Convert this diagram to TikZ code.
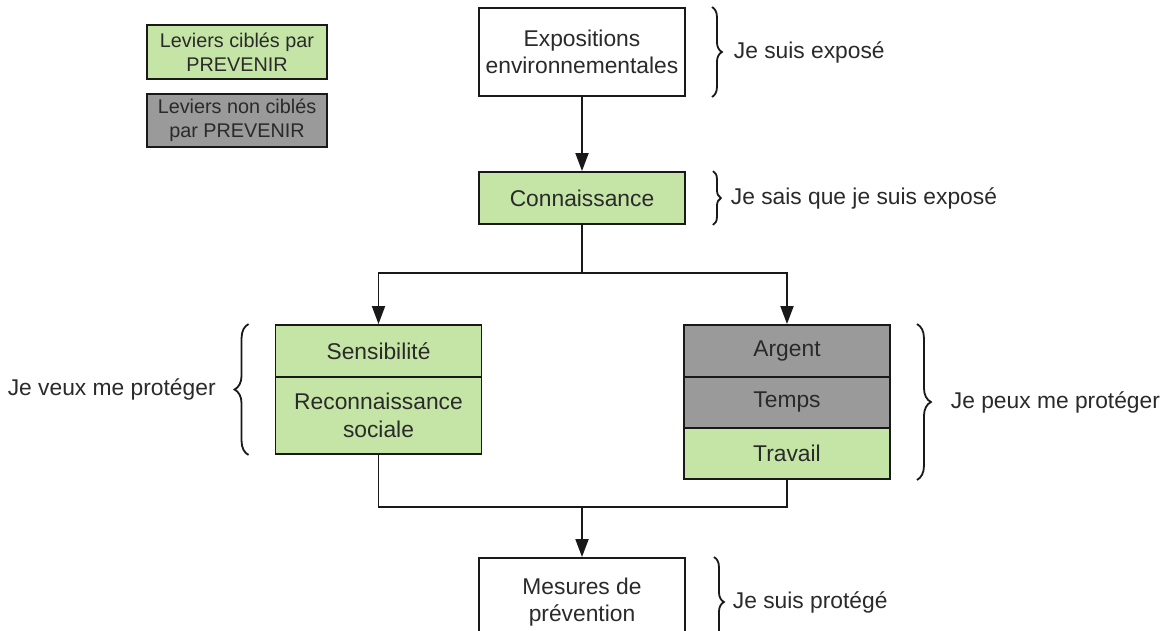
\documentclass[tikz,border=0pt]{standalone}
\usepackage{fontspec}
\setmainfont{Liberation Sans}
\usetikzlibrary{arrows.meta,decorations.pathreplacing}
\definecolor{levier}{HTML}{C5E5A6}
\definecolor{nonlevier}{HTML}{9A9A9A}
\definecolor{texte}{HTML}{2A2A2A}

\begin{document}
\begin{tikzpicture}[
        x=1pt, y=-1pt,
        every node/.style={text=texte, font=\fontsize{22.8}{27.5}\selectfont},
        bloc/.style={
            draw=black!90,
            line width=1.9pt,
            align=center,
            minimum width=206pt,
            inner sep=0pt
        },
        cible/.style={bloc, fill=levier},
        noncible/.style={bloc, fill=nonlevier},
        lien/.style={line width=1.9pt, draw=black!90},
        fleche/.style={lien, -{Triangle[length=18pt,width=13pt]}},
        accolade/.style={decorate, decoration={brace, amplitude=#1}, line width=1.8pt, draw=black!90},
        accolade/.default=10pt,
        annot/.style={inner sep=0pt}
    ]
    \clip (0,0) rectangle (1169,630);
    \fill[white] (0,0) rectangle (1169,630);

    % legende
    \node[cible, minimum width=180pt, minimum height=54pt, font=\fontsize{19.8}{24.5}\selectfont] (legcible) at (237,52) {Leviers ciblés par\\PREVENIR};
    \node[noncible, minimum width=180pt, minimum height=53pt, font=\fontsize{19.8}{24.5}\selectfont] (legnon) at (237,120.5) {Leviers non ciblés\\par PREVENIR};

    % chaine principale
    \node[bloc, minimum height=88pt] (expo) at (582,52) {Expositions\\environnementales};
    \node[cible, minimum height=52pt] (conn) at (582,198) {Connaissance};

    \node[cible, minimum height=52pt] (sens) at (378.5,351) {Sensibilité};
    \node[cible, minimum height=77pt] (reco) at (378.5,415.5) {Reconnaissance\\sociale};

    \node[noncible, minimum height=52pt] (argent) at (787,351) {Argent};
    \node[noncible, minimum height=51pt] (temps) at (787,402.5) {Temps};
    \node[cible, minimum height=51pt] (trav) at (787,453.5) {Travail};

    \node[bloc, minimum height=88pt] (mes) at (582,602) {Mesures de\\prévention};

    \coordinate (split) at (582,273);
    \coordinate (merge) at (582,507);

    \draw[fleche] (expo) -- (conn);
    \draw[lien] (conn) -- (split);
    \draw[fleche] (split) -| (sens);
    \draw[fleche] (split) -| (argent);
    \draw[lien] (reco) |- (merge) -| (trav);
    \draw[fleche] (merge) -- (mes);

    % accolades
    \draw[accolade] ([xshift=26pt]expo.north east) -- ([xshift=26pt]expo.south east)
        node[annot, midway, right=21pt] (lexpo) {Je suis exposé};
    \draw[accolade=8pt] ([xshift=27pt]conn.north east) -- ([xshift=27pt]conn.south east)
        node[annot, midway, right=17pt] (lconn) {Je sais que je suis exposé};
    \draw[accolade=14pt] ([xshift=-26pt]reco.south west) -- ([xshift=-26pt]sens.north west)
        node[annot, midway, left=32pt] (lveux) {Je veux me protéger};
    \draw[accolade=14pt] ([xshift=26pt]argent.north east) -- ([xshift=26pt]trav.south east)
        node[annot, midway, right=33pt] (lpeux) {Je peux me protéger};
    \draw[accolade] ([xshift=28pt]mes.north east) -- ([xshift=28pt]mes.south east)
        node[annot, midway, right=18pt] (lmes) {Je suis protégé};
\end{tikzpicture}
\end{document}
